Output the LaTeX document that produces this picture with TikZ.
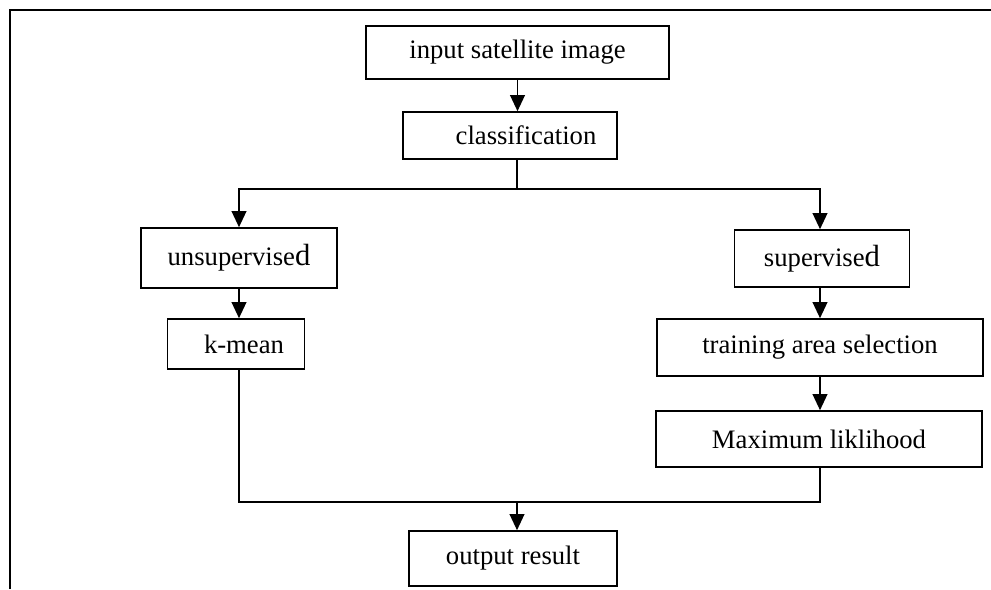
\documentclass[tikz,border=0pt]{standalone}
\usepackage{fontspec}
\setmainfont{Liberation Serif}
\usepackage{tikz}
\usetikzlibrary{arrows.meta}

\tikzset{
  box/.style={draw, line width=1.2pt, inner sep=0pt, font=\fontsize{20}{24}\selectfont},
  link/.style={line width=1.2pt},
}
\newcommand{\bigd}{{\fontsize{23}{24}\selectfont d}}

\begin{document}
\begin{tikzpicture}[x=0.75pt, y=-0.75pt, >={Triangle[length=12pt, width=11pt]}]

\useasboundingbox (0,0) rectangle (991,589);

% Frame
\draw[line width=1.8pt] (10,589) -- (10,10) -- (991,10);

% Boxes
\node[box, minimum width=227.25pt, minimum height=39.75pt] (img) at (517.5,52.5) {input satellite image};
\node[box, minimum width=160.5pt, minimum height=35.25pt] (cls) at (510,135.5) {\hspace*{24pt}classification};
\node[box, minimum width=147pt, minimum height=45pt] (uns) at (239,258) {unsupervise\bigd};
\node[box, minimum width=102.75pt, minimum height=37.5pt] (kmn) at (236,344) {\hspace*{12pt}k-mean};
\node[box, minimum width=131.25pt, minimum height=42.75pt] (sup) at (822,258.5) {supervise\bigd};
\node[box, minimum width=244.5pt, minimum height=42.75pt] (trn) at (820,347.5) {training area selection};
\node[box, minimum width=244.5pt, minimum height=42pt] (mle) at (819,439) {Maximum liklihood};
\node[box, minimum width=156pt, minimum height=41.25pt] (out) at (513,558.5) {output result};

% Branch and join points
\coordinate (split) at (517,189);
\coordinate (join) at (517,502);

% Arrows
\draw[link, ->] (img.south) -- (img.south |- cls.north);
\draw[link] (cls.south -| split) -- (split);
\draw[link, ->] (split) -| (uns.north);
\draw[link, ->] (split) -| (trn.north |- sup.north);
\draw[link, ->] (uns.south) -- (uns.south |- kmn.north);
\draw[link, ->] (trn.north |- sup.south) -- (trn.north);
\draw[link, ->] (trn.south) -- (trn.south |- mle.north);
\draw[link] (kmn.south -| uns.south) |- (join) -| (trn.south |- mle.south);
\draw[link, ->] (join) -- (join |- out.north);

\end{tikzpicture}
\end{document}
